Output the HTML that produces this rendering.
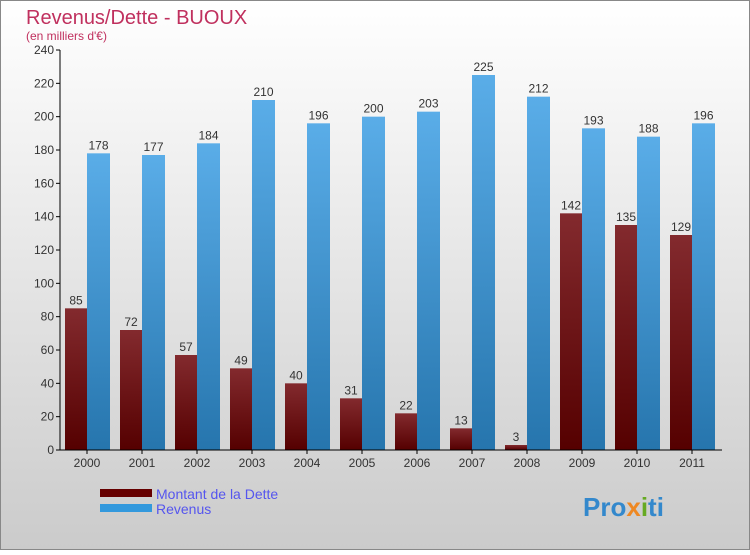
<!DOCTYPE html>
<html><head><meta charset="utf-8"><style>
body{margin:0;width:750px;height:550px;overflow:hidden;font-family:"Liberation Sans",sans-serif}
</style></head><body>
<svg width="750" height="550" xmlns="http://www.w3.org/2000/svg">
<defs>
<linearGradient id="bg" x1="0" y1="0" x2="0" y2="1"><stop offset="0" stop-color="#ffffff"/><stop offset="1" stop-color="#cbcbcb"/></linearGradient>
<linearGradient id="gd" x1="0" y1="0" x2="0" y2="1"><stop offset="0" stop-color="#832a2e"/><stop offset="1" stop-color="#550000"/></linearGradient>
<linearGradient id="gr" x1="0" y1="0" x2="0" y2="1"><stop offset="0" stop-color="#5aade8"/><stop offset="1" stop-color="#2675ad"/></linearGradient>
</defs>
<rect x="0.5" y="0.5" width="749" height="549" fill="url(#bg)" stroke="#888"/>
<text x="26" y="24" font-size="20" fill="#c0305e">Revenus/Dette - BUOUX</text>
<text x="26" y="40" font-size="12" fill="#c0305e">(en milliers d'€)</text>
<g id="plot"></g>
<rect x="100" y="489" width="52" height="8" fill="#660000"/>
<text x="156" y="499" font-size="14" fill="#5555ee">Montant de la Dette</text>
<rect x="100" y="504" width="52" height="8" fill="#3399dd"/>
<text x="156" y="514" font-size="14" fill="#5555ee">Revenus</text>
<text x="583" y="516" font-size="26" font-weight="bold" fill="#3388cc">Pro<tspan fill="#ee8822">x</tspan><tspan fill="#66aa22">i</tspan>ti</text>
</svg>
<script>
const years=["2000","2001","2002","2003","2004","2005","2006","2007","2008","2009","2010","2011"];
const dette=[85,72,57,49,40,31,22,13,3,142,135,129];
const revenus=[178,177,184,210,196,200,203,225,212,193,188,196];
const ticks=[0,20,40,60,80,100,120,140,160,180,200,220,240];
const NS="http://www.w3.org/2000/svg";
const g=document.getElementById("plot");
const y=v=>450-v*400/240;
const x0=i=>60+55*i;
function mk(t,a,txt){const e=document.createElementNS(NS,t);for(const k in a)e.setAttribute(k,a[k]);if(txt!==undefined)e.textContent=txt;g.appendChild(e);return e;}
ticks.forEach(t=>{
 const l=mk("line",{x1:56,x2:60,y1:y(t),y2:y(t),stroke:"#000"});
 
 
 const tx=mk("text",{x:54,y:y(t)+4,"font-size":12,"text-anchor":"end",fill:"#333"},t);
 
 
});
years.forEach((yr,i)=>{
 const b=mk("rect",{x:x0(i)+5,y:y(dette[i]),width:22,height:450-y(dette[i]),fill:"url(#gd)"});
 
 
 const r=mk("rect",{x:x0(i)+27,y:y(revenus[i]),width:23,height:450-y(revenus[i]),fill:"url(#gr)"});
 
 
 const l1=mk("text",{x:x0(i)+16,y:y(dette[i])-4,"font-size":12,"text-anchor":"middle",fill:"#333"},dette[i]);
 
 
 const l2=mk("text",{x:x0(i)+38.5,y:y(revenus[i])-4,"font-size":12,"text-anchor":"middle",fill:"#333"},revenus[i]);
 
 
 const tk=mk("line",{x1:x0(i)+27,x2:x0(i)+27,y1:450,y2:454,stroke:"#000"});
 
 
 const xl=mk("text",{x:x0(i)+27,y:467,"font-size":12,"text-anchor":"middle",fill:"#333"},yr);
 
 
});
const ax=mk("line",{x1:60,x2:60,y1:50,y2:450,stroke:"#000"});


const bx=mk("line",{x1:60,x2:722,y1:450,y2:450,stroke:"#000"});


</script>
</body></html>
